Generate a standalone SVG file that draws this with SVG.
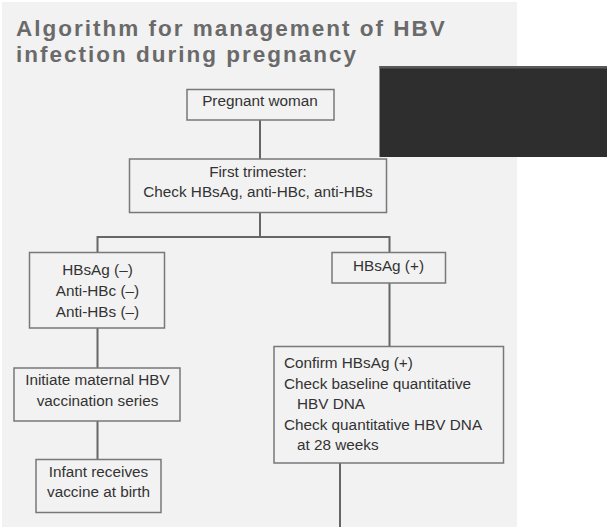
<svg xmlns="http://www.w3.org/2000/svg" width="607" height="527" viewBox="0 0 607 527">
<style>
.box{fill:#f2f2f2;stroke:#787878;stroke-width:1.5}
.t{font-family:"Liberation Sans",Arial,sans-serif;font-size:15.3px;fill:#333;text-anchor:middle}
.tl{font-family:"Liberation Sans",Arial,sans-serif;font-size:15.3px;fill:#333}
.title{font-family:"Liberation Sans",Arial,sans-serif;font-weight:bold;font-size:22.5px;fill:#6a6a6a;letter-spacing:2px}
.c{stroke:#666;stroke-width:2;fill:none}
</style>
<rect x="0" y="0" width="607" height="527" fill="#fff"/>
<rect x="2" y="2" width="515" height="525" fill="#f2f2f2"/>
<text class="title" x="16" y="36">Algorithm for management of HBV</text>
<text class="title" x="16" y="62">infection during pregnancy</text>
<g id="connectors">
<line class="c" x1="260" y1="120" x2="260" y2="159"/>
<line class="c" x1="260" y1="213" x2="260" y2="237"/>
<polyline class="c" points="97.5,252 97.5,237 389.5,237 389.5,252"/>
<line class="c" x1="389.5" y1="283" x2="389.5" y2="346"/>
<line class="c" x1="97.5" y1="328" x2="97.5" y2="368"/>
<line class="c" x1="97.5" y1="421" x2="97.5" y2="459"/>
<line class="c" x1="340" y1="463" x2="340" y2="527"/>
</g>
<g id="pregnant">
<rect class="box" x="187" y="89.5" width="147" height="30.5"/>
<text class="t" x="260" y="106">Pregnant woman</text>
</g>
<g id="first">
<rect class="box" x="129.5" y="159" width="257" height="53.5"/>
<text class="t" x="258" y="177">First trimester:</text>
<text class="t" x="258" y="197">Check HBsAg, anti-HBc, anti-HBs</text>
</g>
<g id="neg">
<rect class="box" x="29.5" y="252.5" width="135" height="75.5"/>
<text class="t" x="97.5" y="275">HBsAg (–)</text>
<text class="t" x="97.5" y="296">Anti-HBc (–)</text>
<text class="t" x="97.5" y="317">Anti-HBs (–)</text>
</g>
<g id="pos">
<rect class="box" x="332" y="252.5" width="113.5" height="30.5"/>
<text class="t" x="388.5" y="271">HBsAg (+)</text>
</g>
<g id="initiate">
<rect class="box" x="14" y="368" width="166" height="53"/>
<text class="t" x="97.5" y="385">Initiate maternal HBV</text>
<text class="t" x="97.5" y="406">vaccination series</text>
</g>
<g id="infant">
<rect class="box" x="36" y="459.5" width="125" height="53"/>
<text class="t" x="98.5" y="477">Infant receives</text>
<text class="t" x="98.5" y="497">vaccine at birth</text>
</g>
<g id="confirm">
<rect class="box" x="274" y="346.5" width="229.5" height="116.5"/>
<text class="tl" x="284" y="368">Confirm HBsAg (+)</text>
<text class="tl" x="284" y="388.5">Check baseline quantitative</text>
<text class="tl" x="297" y="409">HBV DNA</text>
<text class="tl" x="284" y="429.5">Check quantitative HBV DNA</text>
<text class="tl" x="297" y="450">at 28 weeks</text>
</g>
<rect x="379.5" y="66" width="227.5" height="91" fill="#2e2e2e"/>
<rect x="379.5" y="66" width="227.5" height="2.5" fill="#5a5a5a"/>
</svg>
